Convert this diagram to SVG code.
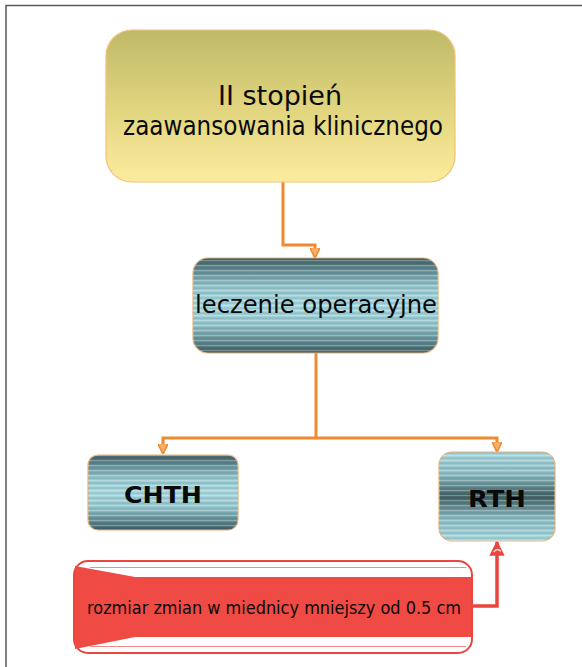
<svg xmlns="http://www.w3.org/2000/svg" width="582" height="667" viewBox="0 0 582 667">
  <style>
    .lbl { font-family: "DejaVu Sans", "Noto Sans", sans-serif; fill: #0A0A0A; text-anchor: middle; }
    .bold { font-weight: bold; }
    .wire { fill: none; stroke: #F08A30; stroke-width: 3; }
    .wire-red { fill: none; stroke: #E8463F; stroke-width: 3.5; }
    .edge { stroke: #E8B27A; stroke-width: 1.2; }
  </style>
  <defs>
    <linearGradient id="gold" x1="0" y1="0" x2="0" y2="1">
      <stop offset="0" stop-color="#BFBA68"/>
      <stop offset="0.5" stop-color="#E0D47E"/>
      <stop offset="1" stop-color="#FCEC9E"/>
    </linearGradient>
    <!-- dark edges, light core -->
    <linearGradient id="tealDLD" x1="0" y1="0" x2="0" y2="1">
      <stop offset="0" stop-color="#3E5C60"/>
      <stop offset="0.12" stop-color="#5E8890"/>
      <stop offset="0.3" stop-color="#94C6CE"/>
      <stop offset="0.5" stop-color="#A8D8E0"/>
      <stop offset="0.7" stop-color="#94C6CE"/>
      <stop offset="0.88" stop-color="#5E8890"/>
      <stop offset="1" stop-color="#3E5C60"/>
    </linearGradient>
    <!-- light edges, dark core -->
    <linearGradient id="tealLDL" x1="0" y1="0" x2="0" y2="1">
      <stop offset="0" stop-color="#A8D8E0"/>
      <stop offset="0.25" stop-color="#8CBCC4"/>
      <stop offset="0.5" stop-color="#3F5E62"/>
      <stop offset="0.75" stop-color="#8CBCC4"/>
      <stop offset="1" stop-color="#A8D8E0"/>
    </linearGradient>
    <pattern id="lines" patternUnits="userSpaceOnUse" width="8" height="5">
      <rect x="0" y="0" width="8" height="1.2" fill="#FFFFFF" fill-opacity="0.28"/>
      <rect x="0" y="2.6" width="8" height="1" fill="#1E3438" fill-opacity="0.18"/>
    </pattern>
    <marker id="tipOrange" viewBox="0 0 10 10" refX="9" refY="5" markerWidth="3.5" markerHeight="3.5" orient="auto" markerUnits="strokeWidth">
      <path d="M0,0 L10,5 L0,10 Z" fill="#F7B06A" stroke="#F08A30" stroke-width="1.5"/>
    </marker>
    <marker id="tipRed" viewBox="0 0 10 10" refX="9" refY="5" markerWidth="4.4" markerHeight="4.4" orient="auto" markerUnits="strokeWidth">
      <path d="M0,0 L10,5 L0,10 Z" fill="#E8463F"/>
      <path d="M2.5,3 Q5.5,5 3,7.5" fill="none" stroke="#FFFFFF" stroke-width="1" stroke-opacity="0.8"/>
    </marker>
  </defs>

  <rect width="582" height="667" fill="#FFFFFF"/>
  <!-- frame -->
  <path d="M6,667 V5.5 H582" fill="none" stroke="#5A5A5A" stroke-width="1.5"/>

  <g id="connectors">
    <path class="wire" d="M283,182 V245 H315 V257" marker-end="url(#tipOrange)"/>
    <path class="wire" d="M316,353 V438"/>
    <path class="wire" d="M316,438 H163 V453" marker-end="url(#tipOrange)"/>
    <path class="wire" d="M316,438 H497 V451" marker-end="url(#tipOrange)"/>
    <path class="wire-red" d="M472,606 H497 V542" marker-end="url(#tipRed)"/>
  </g>

  <g id="stage">
    <rect x="106" y="30" width="349" height="152" rx="26" fill="url(#gold)" stroke="#F0C27A" stroke-width="1.2"/>
    <text class="lbl" x="280" y="105" font-size="27">II stopień</text>
    <text class="lbl" x="283" y="135" font-size="27" textLength="320" lengthAdjust="spacingAndGlyphs">zaawansowania klinicznego</text>
  </g>

  <g id="surgery">
    <rect x="193" y="258" width="245" height="95" rx="15" fill="url(#tealDLD)" class="edge"/>
    <rect x="193" y="258" width="245" height="95" rx="15" fill="url(#lines)"/>
    <text class="lbl" x="316" y="313" font-size="25" textLength="242" lengthAdjust="spacingAndGlyphs">leczenie operacyjne</text>
  </g>

  <g id="chth">
    <rect x="88" y="455" width="150" height="75" rx="10" fill="url(#tealDLD)" class="edge"/>
    <rect x="88" y="455" width="150" height="75" rx="10" fill="url(#lines)"/>
    <text class="lbl bold" x="163" y="503" font-size="23" textLength="78" lengthAdjust="spacingAndGlyphs">CHTH</text>
  </g>

  <g id="rth">
    <rect x="439" y="452" width="116" height="89" rx="13" fill="url(#tealLDL)" class="edge"/>
    <rect x="439" y="452" width="116" height="89" rx="13" fill="url(#lines)"/>
    <text class="lbl bold" x="497" y="507" font-size="23" textLength="58" lengthAdjust="spacingAndGlyphs">RTH</text>
  </g>

  <g id="size">
    <rect x="74" y="561" width="398" height="92" rx="14" fill="#FFFFFF" stroke="#E8463F" stroke-width="2"/>
    <!-- red body with tapered left end -->
    <path d="M75,566 L135,577 H471 V637 H135 L75,649 Z" fill="#F04A44"/>
    <path d="M90,567.5 H466 M90,646.5 H466" stroke="#F08A86" stroke-width="1"/>
    <text class="lbl" x="274" y="614" font-size="18" textLength="374" lengthAdjust="spacingAndGlyphs">rozmiar zmian w miednicy mniejszy od 0.5 cm</text>
  </g>
</svg>
